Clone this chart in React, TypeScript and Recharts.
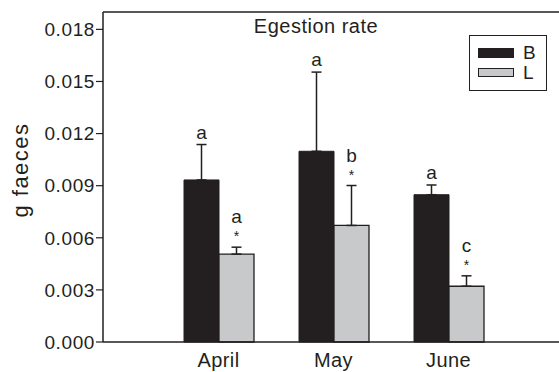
import { BarChart, Bar, XAxis, YAxis, ErrorBar, LabelList, ReferenceLine } from 'recharts'

const months = ['April', 'May', 'June']
const bValues = [0.00933, 0.01098, 0.00848]
const bErrors = [0.00204, 0.00456, 0.00056]
const lValues = [0.00506, 0.00671, 0.00321]
const lErrors = [0.0004, 0.0023, 0.0006]
const bLetters = ['a', 'a', 'a']
const lLetters = ['a', 'b', 'c']
const lStars = ['*', '*', '*']
const yTicks = [0, 0.003, 0.006, 0.009, 0.012, 0.015, 0.018]
const yMax = 0.019

const data = months.map((month, i) => ({
  month,
  B: bValues[i],
  L: lValues[i],
  bErr: [0, bErrors[i]],
  lErr: [0, lErrors[i]],
}))

const ink = '#231f20'
const grey = '#c8c9cb'
const font = '"Liberation Sans", Arial, Helvetica, sans-serif'

// letters (and stars) sit just above the top of each error bar
function marks(values: number[], errors: number[], letters: string[], stars?: string[]) {
  return (props: any) => {
    const { x, y, width, height, value } = props
    const i = props.index ?? values.indexOf(value)
    const perUnit = height / value
    const top = y - errors[i] * perUnit
    const cx = x + width / 2
    return (
      <g>
        <text x={cx} y={stars ? top - 24 : top - 6} textAnchor="middle" fontSize={19} fill={ink} fontFamily={font}>
          {letters[i]}
        </text>
        {stars && (
          <text x={cx} y={top - 6} textAnchor="middle" fontSize={14} fill={ink} fontFamily={font}>
            {stars[i]}
          </text>
        )}
      </g>
    )
  }
}

export default function App() {
  return (
    <div style={{ position: 'relative', width: 559, height: 372, background: '#fff' }}>
      <style>{'body{margin:0}'}</style>
      <BarChart width={559} height={372} data={data} margin={{ top: 12, right: 0, left: 0, bottom: 0 }} barSize={35} barGap={0}>
        <XAxis
          dataKey="month"
          padding={{ left: 58, right: 53 }}
          height={30}
          tickLine={false}
          tickSize={0}
          tickMargin={11}
          axisLine={{ stroke: ink, strokeWidth: 1.5 }}
          tick={{ fill: ink, fontSize: 20, fontFamily: font, letterSpacing: 0.4 }}
        />
        <YAxis
          domain={[0, yMax]}
          ticks={yTicks}
          width={103}
          tickSize={7}
          tickMargin={1}
          tickFormatter={(v: number) => v.toFixed(3)}
          axisLine={{ stroke: ink, strokeWidth: 1.5 }}
          tickLine={{ stroke: ink, strokeWidth: 1.2 }}
          tick={{ fill: ink, fontSize: 19, fontFamily: font, letterSpacing: 0.6 }}
          label={() => (
            <text
              x={28}
              y={170}
              transform="rotate(-90 28 170)"
              textAnchor="middle"
              fontSize={22}
              letterSpacing={1.5}
              fill={ink}
              fontFamily={font}
            >
              g faeces
            </text>
          )}
        />
        <ReferenceLine
          y={yMax}
          stroke={ink}
          strokeWidth={1.5}
          label={() => (
            <text x={316} y={33} textAnchor="middle" fontSize={20} letterSpacing={0.5} fill={ink} fontFamily={font}>
              Egestion rate
            </text>
          )}
        />
        <Bar dataKey="B" fill={ink} stroke={ink} strokeWidth={1} isAnimationActive={false}>
          <ErrorBar dataKey="bErr" direction="y" width={5} stroke={ink} strokeWidth={1.5} />
          <LabelList dataKey="B" content={marks(bValues, bErrors, bLetters)} />
        </Bar>
        <Bar dataKey="L" fill={grey} stroke={ink} strokeWidth={1.3} isAnimationActive={false}>
          <ErrorBar dataKey="lErr" direction="y" width={5} stroke={ink} strokeWidth={1.5} />
          <LabelList dataKey="L" content={marks(lValues, lErrors, lLetters, lStars)} />
        </Bar>
      </BarChart>
      <div
        style={{
          position: 'absolute',
          left: 469,
          top: 35,
          width: 78,
          height: 56,
          boxSizing: 'border-box',
          border: `1.5px solid ${ink}`,
          fontFamily: font,
          color: ink,
        }}
      >
        <div style={{ position: 'absolute', left: 8, top: 12, width: 36, height: 10, background: ink }} />
        <div style={{ position: 'absolute', left: 53, top: 6, fontSize: 19, lineHeight: '22px' }}>B</div>
        <div style={{ position: 'absolute', left: 8, top: 32, width: 36, height: 9, boxSizing: 'border-box', background: grey, border: `1px solid ${ink}` }} />
        <div style={{ position: 'absolute', left: 53, top: 26, fontSize: 19, lineHeight: '22px' }}>L</div>
      </div>
    </div>
  )
}
